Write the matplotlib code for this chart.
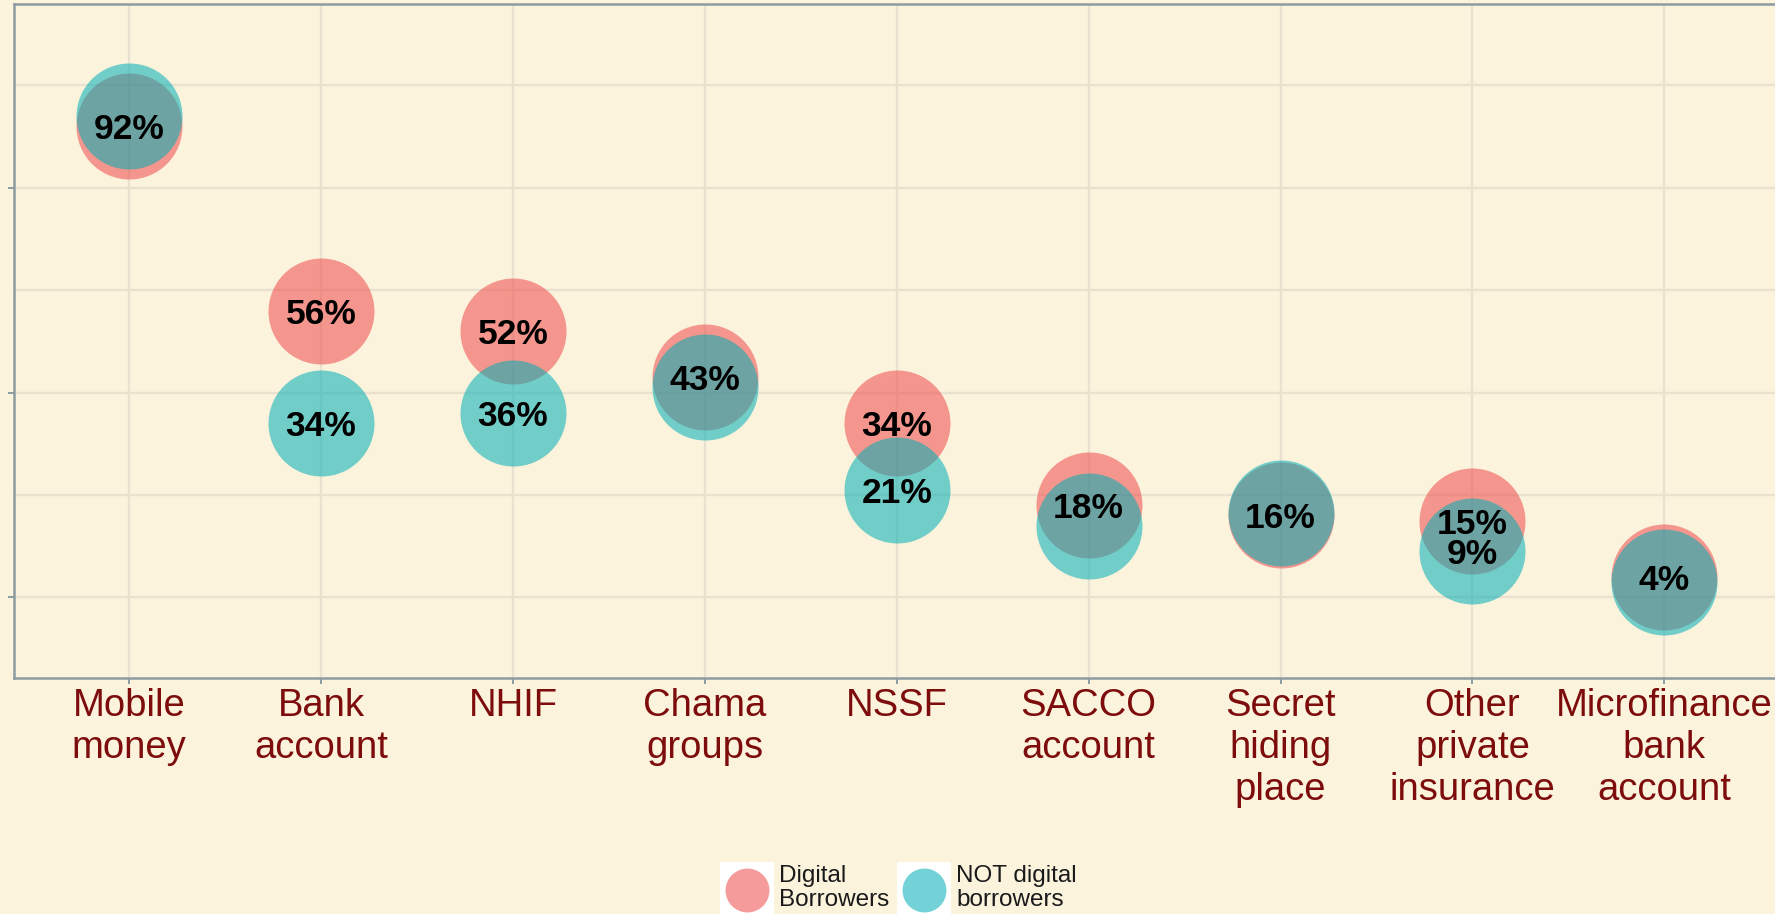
import numpy as np
import matplotlib
matplotlib.use("Agg")
import matplotlib.pyplot as plt
from matplotlib.patches import Rectangle

plt.rcParams['font.family'] = ['Liberation Sans', 'DejaVu Sans']

# data (percent of respondents)
categories = ["Mobile\nmoney", "Bank\naccount", "NHIF", "Chama\ngroups", "NSSF",
              "SACCO\naccount", "Secret\nhiding\nplace", "Other\nprivate\ninsurance",
              "Microfinance\nbank\naccount"]
digital = [92, 56, 52, 43, 34, 18, 16, 15, 4]
not_digital = [94, 34, 36, 41, 21, 14, 16.4, 9, 3]
series_names = ["Digital\nBorrowers", "NOT digital\nborrowers"]

bg = "#FCF3DD"
red = "#EF4A4B"
teal = "#00AEB8"
alpha = 0.55
spine_col = "#8C9CA2"
grid_col = "#EAE2CE"

fig = plt.figure(figsize=(17.75, 9.14), dpi=100, facecolor=bg)
ax = fig.add_axes([14 / 1775, 1 - 678 / 914, 1765.5 / 1775, 674 / 914])
ax.set_facecolor(bg)

x = np.arange(1, len(categories) + 1)
ax.scatter(x, digital, s=5822, color=red, alpha=alpha, linewidths=0, zorder=3)
ax.scatter(x, not_digital, s=5822, color=teal, alpha=alpha, linewidths=0, zorder=4)

# labels: second series only where it does not collide with the first
for xi, d, n in zip(x, digital, not_digital):
    ax.text(xi, d, f"{round(d)}%", ha='center', va='center_baseline', fontsize=25.5,
            fontweight='bold', color='black', zorder=5)
    if abs(d - n) >= 5.5:
        ax.text(xi, n, f"{round(n)}%", ha='center', va='center_baseline', fontsize=25.5,
                fontweight='bold', color='black', zorder=5)

ax.set_xlim(0.4, 9.6)
ax.set_ylim(-15.76, 115.9)
ax.set_xticks(x)
ax.set_xticklabels(categories, fontsize=27.5, color="#7D0C0C", linespacing=1.2)
ax.set_yticks([0, 40, 80])
ax.set_yticks([20, 60, 100], minor=True)
ax.set_yticklabels([])
ax.tick_params(axis='both', which='major', length=4.5, width=1.4, color=spine_col, pad=3)
ax.tick_params(axis='y', which='minor', length=0)
ax.grid(True, which='both', color=grid_col, linewidth=1.7, zorder=0)
ax.set_axisbelow(True)
for side in ['left', 'bottom', 'top']:
    ax.spines[side].set_color(spine_col)
    ax.spines[side].set_linewidth(1.8)
ax.spines['right'].set_visible(False)

# legend drawn in pixel space at the bottom
lax = fig.add_axes([0, 0, 1, 1], facecolor='none')
lax.set_xlim(0, 1775)
lax.set_ylim(914, 0)
lax.axis('off')
for kx, col, name in zip([720, 897], [red, teal], series_names):
    lax.add_patch(Rectangle((kx, 862), 54, 60, facecolor='white', edgecolor='none'))
    lax.scatter([kx + 27], [890], s=1000, color=col, alpha=alpha, linewidths=0)
    lax.text(kx + 59, 865, name, ha='left', va='top', fontsize=17.5,
             color='#1a1a1a', linespacing=1.12)

fig.savefig("out.png", dpi=100, facecolor=bg)
